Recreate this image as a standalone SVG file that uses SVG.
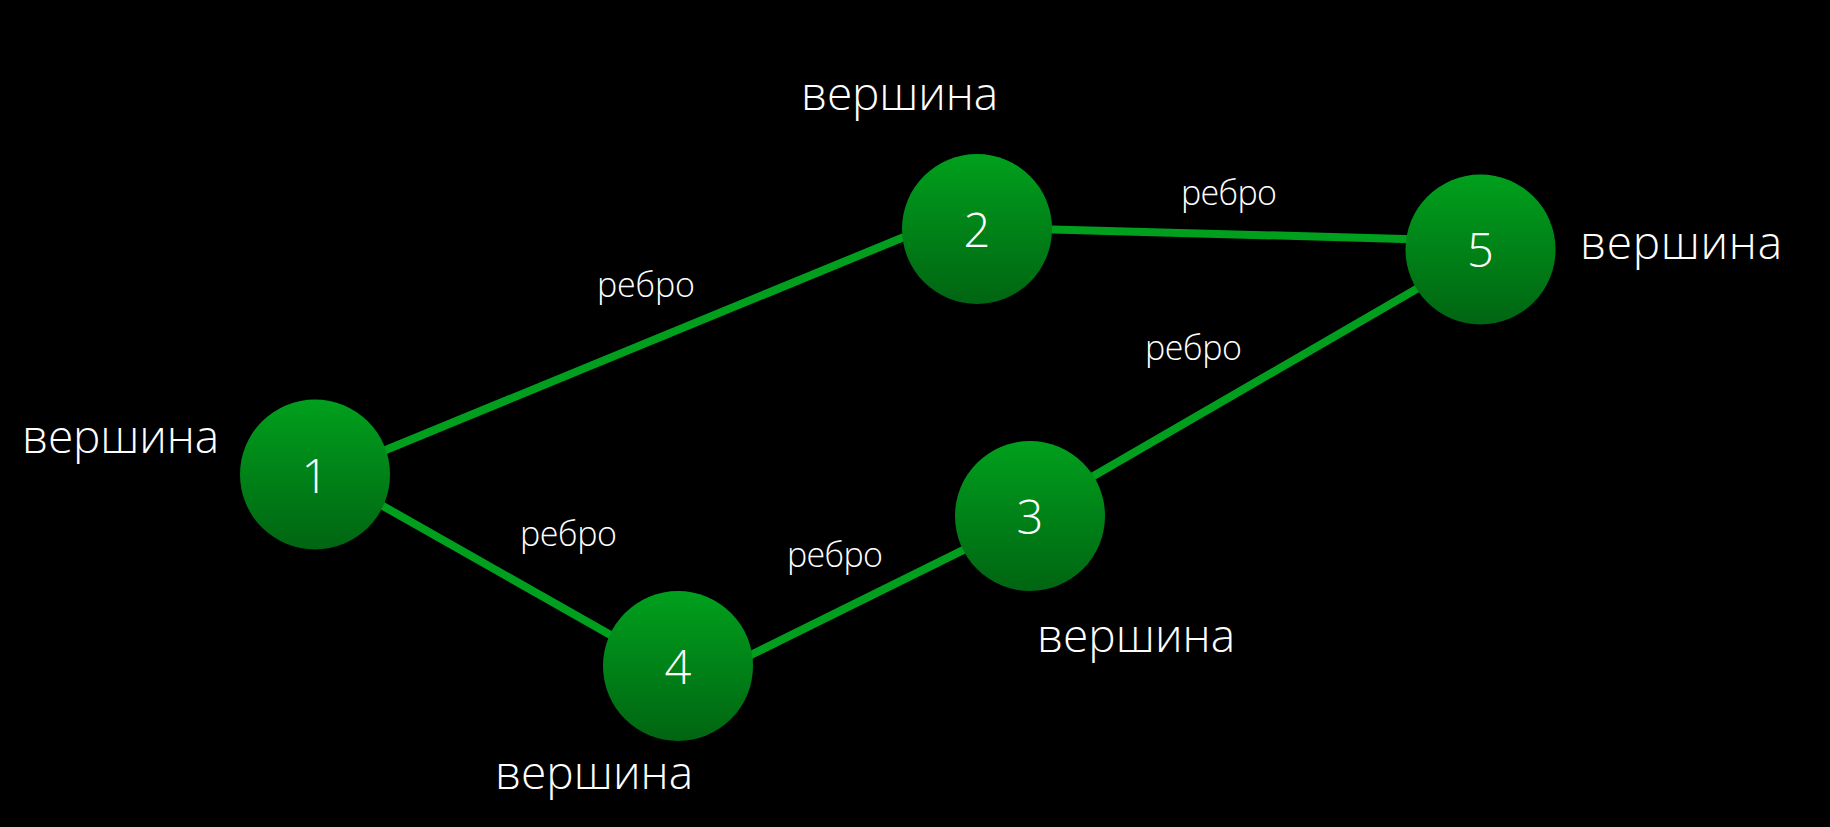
<svg xmlns="http://www.w3.org/2000/svg" width="1830" height="827" viewBox="0 0 1830 827">
<defs>
<linearGradient id="g" x1="0" y1="0" x2="0" y2="1">
<stop offset="0" stop-color="#00a01d"/>
<stop offset="1" stop-color="#006512"/>
</linearGradient>
<style>
.edge{stroke:#00a01e;stroke-width:8;fill:none}
.node{fill:url(#g)}
text{fill:#fff;font-family:"Open Sans","Liberation Sans",Arial,sans-serif;font-weight:300}
.num{font-size:47px;text-anchor:middle}
.v{font-size:46px}
.e{font-size:34px}
</style>
</defs>
<rect width="1830" height="827" fill="#000"/>
<g id="connectors">
<line class="edge" x1="320" y1="477" x2="960" y2="214"/>
<line class="edge" x1="1000" y1="228" x2="1440" y2="240"/>
<line class="edge" x1="1040" y1="507" x2="1470" y2="258"/>
<line class="edge" x1="690" y1="685" x2="1020" y2="522"/>
<line class="edge" x1="330" y1="476" x2="660" y2="663"/>
<text class="e" x="597" y="297" textLength="98">ребро</text>
<text class="e" x="1181" y="205" textLength="96">ребро</text>
<text class="e" x="1145" y="360" textLength="97">ребро</text>
<text class="e" x="520" y="546" textLength="97">ребро</text>
<text class="e" x="787" y="567" textLength="96">ребро</text>
</g>
<g id="node1"><circle class="node" cx="315" cy="474.5" r="75"/><text class="num" x="315" y="493">1</text><text class="v" x="22" y="453" textLength="197">вершина</text></g>
<g id="node2"><circle class="node" cx="977" cy="229" r="75"/><text class="num" x="977" y="247">2</text><text class="v" x="801" y="110" textLength="197">вершина</text></g>
<g id="node3"><circle class="node" cx="1030" cy="516" r="75"/><text class="num" x="1030" y="534">3</text><text class="v" x="1037" y="652" textLength="198">вершина</text></g>
<g id="node4"><circle class="node" cx="678" cy="666" r="75"/><text class="num" x="678" y="684">4</text><text class="v" x="495" y="789" textLength="198">вершина</text></g>
<g id="node5"><circle class="node" cx="1480.5" cy="249.5" r="75"/><text class="num" x="1480.5" y="267">5</text><text class="v" x="1580" y="259" textLength="202">вершина</text></g>
</svg>
